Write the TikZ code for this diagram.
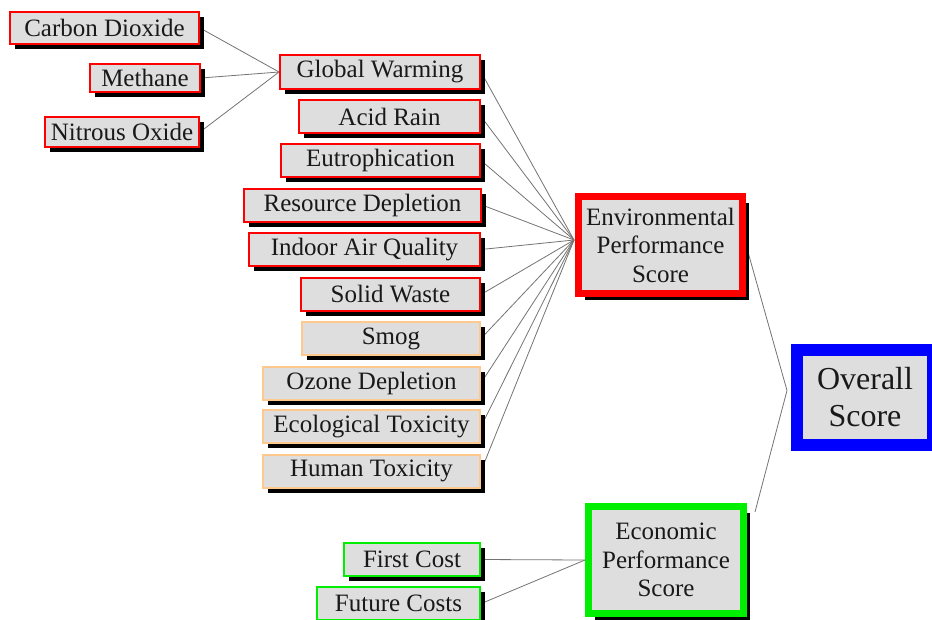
\documentclass[tikz,border=0pt]{standalone}
\usepackage{fontspec}
\setmainfont{Liberation Serif}
\usetikzlibrary{shadows,backgrounds,calc}

\definecolor{boxfill}{RGB}{222,222,222}
\definecolor{peach}{RGB}{255,200,140}
\definecolor{brightgreen}{RGB}{0,238,0}
\definecolor{linkgrey}{RGB}{115,115,115}
\definecolor{ink}{RGB}{25,25,25}

\tikzset{
  % small impact / cost boxes
  factor/.style={draw=#1, line width=2pt, fill=boxfill, text=ink,
    inner sep=0pt, minimum height=33pt,
    font=\fontsize{25}{28}\selectfont,
    drop shadow={shadow xshift=5pt, shadow yshift=-5pt, fill=black, opacity=1}},
  % thick-bordered score boxes
  score/.style={draw=#1, line width=7pt, fill=boxfill, text=ink,
    inner sep=0pt, align=center,
    font=\fontsize{25}{28.5}\selectfont,
    drop shadow={shadow xshift=6pt, shadow yshift=-6pt, fill=black, opacity=1}},
  link/.style={draw=linkgrey, line width=0.8pt}
}

\begin{document}
\begin{tikzpicture}[x=1pt, y=-1pt]
\useasboundingbox (0,0) rectangle (932,619);

% greenhouse gases
\node[factor=red, minimum width=189pt, minimum height=32pt] (cd) at (104.5,28) {Carbon Dioxide};
\node[factor=red, minimum width=110pt, minimum height=28pt] (me) at (145,78) {Methane};
\node[factor=red, minimum width=154pt, minimum height=30pt] (no) at (122,132) {Nitrous Oxide};

% environmental impacts
\node[factor=red, minimum width=200pt, minimum height=34pt] (gw) at (380,72) {Global Warming};
\node[factor=red, minimum width=181pt] (ar) at (389.5,116.5) {Acid Rain};
\node[factor=red, minimum width=199pt] (eu) at (380.5,160.5) {Eutrophication};
\node[factor=red, minimum width=237pt] (rd) at (362.5,205) {Resource Depletion};
\node[factor=red, minimum width=231pt] (iaq) at (364.5,249.5) {Indoor Air Quality};
\node[factor=red, minimum width=179pt] (sw) at (390.5,294.5) {Solid Waste};
\node[factor=peach, minimum width=178pt] (sm) at (391,338.5) {Smog};
\node[factor=peach, minimum width=217pt] (od) at (371.5,383) {Ozone Depletion};
\node[factor=peach, minimum width=217pt] (et) at (371.5,426.5) {Ecological Toxicity};
\node[factor=peach, minimum width=217pt] (ht) at (371.5,471) {Human Toxicity};

% economic factors
\node[factor=brightgreen, line width=2.5pt, minimum width=136pt] (fc) at (412,559.5) {First Cost};
\node[factor=brightgreen, line width=2.5pt, minimum width=163pt] (fu) at (398.5,603.5) {Future Costs};

% scores
\node[score=red, minimum width=164pt, minimum height=97pt] (env) at (660.5,245)
  {Environmental\\Performance\\Score};
\node[score=brightgreen, minimum width=155pt, minimum height=107pt] (eco) at (666,560)
  {Economic\\Performance\\Score};
\node[score=blue, line width=12pt, minimum width=136pt, minimum height=95pt,
  font=\fontsize{32}{37}\selectfont,
  drop shadow={shadow xshift=4pt, shadow yshift=-4pt, fill=black, opacity=1}]
  (ov) at (865,397.5) {Overall\\Score};

\coordinate (envin) at ($(env.west)+(-1,-5)$);
\coordinate (ecoout) at ($(eco.north east)+(8,9)$);
\coordinate (ovin) at ($(ov.west)+(-4,-7)$);

\begin{pgfonlayer}{background}
  \foreach \g in {cd,me,no} \draw[link] (\g.east) -- (gw.west);
  \foreach \i in {gw,ar,eu,rd,iaq,sw,sm,od,et,ht} \draw[link] (\i.east) -- (envin);
  \foreach \c in {fc,fu} \draw[link] (\c.east) -- (eco.west);
  \draw[link] (env.east) -- (ovin) -- (ecoout);
\end{pgfonlayer}
\end{tikzpicture}
\end{document}
